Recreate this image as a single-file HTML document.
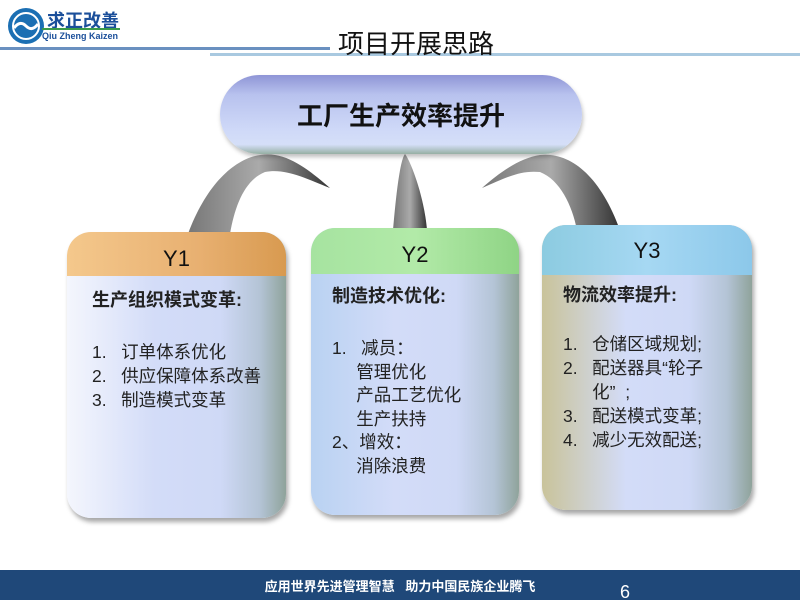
<!DOCTYPE html>
<html><head><meta charset="utf-8"><style>
body{margin:0;width:800px;height:600px;position:relative;overflow:hidden;background:#fff;font-family:"Liberation Sans","Noto Sans CJK SC",sans-serif;}
.a{position:absolute;}
.box{position:absolute;border-radius:24px;overflow:hidden;box-shadow:2px 4px 5px rgba(0,0,0,.35);background:linear-gradient(90deg,#f4f6fd 0%,#d3dcf8 40%,#cfd9f6 70%,#b4c4d6 88%,#8fa39b 100%);}
.hd{position:absolute;left:0;right:0;top:0;text-align:center;font-size:22px;color:#111;}
.t{position:absolute;font-size:17.5px;color:#222;line-height:24px;white-space:nowrap;}
.t b{font-size:18px;}
</style></head><body>
<!-- logo -->
<svg class="a" style="left:6px;top:6px" width="40" height="40"><circle cx="20" cy="20" r="18" fill="#1b6fb3"/><circle cx="20" cy="20" r="13" fill="none" stroke="#fff" stroke-width="2"/><path d="M8 22 Q14 14 20 20 Q26 26 32 18" stroke="#fff" stroke-width="3" fill="none"/></svg>
<div class="a" style="left:47px;top:7px;font-size:18px;font-weight:bold;color:#1b4f9a">求正改善</div>
<div class="a" style="left:42px;top:28px;width:78px;height:2px;background:#3a9a4a"></div>
<div class="a" style="left:42px;top:31px;font-size:9px;font-weight:bold;color:#1b4f9a">Qiu Zheng Kaizen</div>
<div class="a" style="left:0;top:47px;width:330px;height:3px;background:#6a90c0"></div>
<div class="a" style="left:210px;top:53px;width:590px;height:3px;background:#a9c9e0"></div>
<div class="a" style="left:338px;top:24px;font-size:26px;color:#111">项目开展思路</div>
<!-- connectors -->
<svg class="a" style="left:0;top:0" width="800" height="600">
<defs><linearGradient id="g" x1="0" x2="1"><stop offset="0" stop-color="#777"/><stop offset=".5" stop-color="#aaa"/><stop offset="1" stop-color="#333"/></linearGradient></defs>
<path d="M188 234 C210 175 245 150 275 155 C295 158 315 175 330 188 C305 178 285 168 265 172 C245 180 235 205 230 234 Z" fill="url(#g)"/>
<path d="M393 230 C396 195 400 160 405 154 C410 160 424 195 427 230 Z" fill="url(#g)"/>
<path d="M620 230 C600 175 570 152 540 155 C520 158 500 172 482 188 C505 178 520 170 540 172 C560 180 572 205 577 230 Z" fill="url(#g)"/>
</svg>
<!-- top pill -->
<div class="a" style="left:220px;top:75px;width:362px;height:79px;border-radius:40px;background:linear-gradient(180deg,#8f95d6 0%,#b8c2ee 25%,#cfd9f8 70%,#d5dff8 88%,#96b0a4 100%);box-shadow:1px 3px 4px rgba(0,0,0,.25)"></div>
<div class="a" style="left:220px;top:96px;width:362px;text-align:center;font-size:26px;font-weight:bold;color:#111">工厂生产效率提升</div>
<!-- Y1 -->
<div class="box" style="left:67px;top:232px;width:219px;height:286px">
<div style="position:absolute;left:0;right:0;top:0;height:44px;background:linear-gradient(90deg,#f4c88c,#e8b071 60%,#d89a50)"></div>
<div class="hd" style="top:14px">Y1</div></div>
<div class="t" style="left:92px;top:288px"><b>生产组织模式变革:</b></div>
<div class="t" style="left:92px;top:340px">1.&nbsp;&nbsp; 订单体系优化<br>2.&nbsp;&nbsp; 供应保障体系改善<br>3.&nbsp;&nbsp; 制造模式变革</div>
<!-- Y2 -->
<div class="box" style="left:311px;top:228px;width:208px;height:287px;background:linear-gradient(90deg,#b9d2f2 0%,#d3dcf8 40%,#cfd9f6 70%,#b4c4d6 88%,#8fa39b 100%)">
<div style="position:absolute;left:0;right:0;top:0;height:46px;background:linear-gradient(90deg,#a6e3a0,#b2eaa8 50%,#8fd485)"></div>
<div class="hd" style="top:14px">Y2</div></div>
<div class="t" style="left:332px;top:284px"><b>制造技术优化:</b></div>
<div class="t" style="left:332px;top:337px;line-height:23.6px">1.&nbsp;&nbsp; 减员：<br>&nbsp;&nbsp;&nbsp;&nbsp; 管理优化<br>&nbsp;&nbsp;&nbsp;&nbsp; 产品工艺优化<br>&nbsp;&nbsp;&nbsp;&nbsp; 生产扶持<br>2、增效：<br>&nbsp;&nbsp;&nbsp;&nbsp; 消除浪费</div>
<!-- Y3 -->
<div class="box" style="left:542px;top:225px;width:210px;height:285px;background:linear-gradient(90deg,#c9c39a 0%,#d3dcf8 40%,#cfd9f6 70%,#b4c4d6 88%,#8fa39b 100%)">
<div style="position:absolute;left:0;right:0;top:0;height:50px;background:linear-gradient(90deg,#8ccbe0,#a6d8f3 50%,#8cc8ea)"></div>
<div class="hd" style="top:13px">Y3</div></div>
<div class="t" style="left:563px;top:283px"><b>物流效率提升:</b></div>
<div class="t" style="left:563px;top:332px">1.&nbsp;&nbsp; 仓储区域规划;<br>2.&nbsp;&nbsp; 配送器具“轮子<br>&nbsp;&nbsp;&nbsp;&nbsp;&nbsp; 化”&nbsp;&nbsp;;<br>3.&nbsp;&nbsp; 配送模式变革;<br>4.&nbsp;&nbsp; 减少无效配送;</div>
<!-- footer -->
<div class="a" style="left:0;top:570px;width:800px;height:30px;background:#1f4879"></div>
<div class="a" style="left:0;top:576px;width:800px;text-align:center;font-size:13px;font-weight:bold;color:#fff">应用世界先进管理智慧&nbsp;&nbsp; 助力中国民族企业腾飞</div>
<div class="a" style="left:620px;top:582px;font-size:18px;color:#fff">6</div>
</body></html>
